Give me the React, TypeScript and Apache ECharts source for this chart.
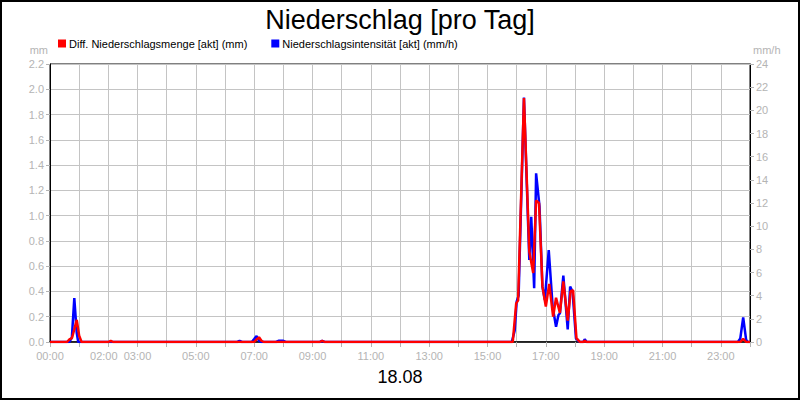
import React, { useEffect, useRef } from "react";
import * as echarts from "echarts";

const FONT = "'Liberation Sans', Arial, sans-serif";

// Diff. Niederschlagsmenge [akt] (mm) — minutes of day / mm
const redTimes = [0, 35, 40, 45, 50, 55, 60, 65, 120, 125, 130, 420, 425, 430, 435, 440, 555, 560, 565,
  952, 959, 963, 975, 986, 994, 1000, 1006, 1013, 1020, 1027, 1035, 1041, 1049, 1056, 1065, 1071, 1076,
  1083, 1090, 1097, 1100, 1104, 1420, 1426, 1432, 1440];
const redValues = [0, 0, 0.02, 0.03, 0.10, 0.175, 0.05, 0, 0, 0.01, 0, 0, 0.02, 0.037, 0.01, 0, 0, 0.01, 0,
  0, 0.306, 0.33, 1.93, 0.715, 0.546, 1.12, 1.10, 0.44, 0.28, 0.46, 0.20, 0.35, 0.23, 0.48, 0.17, 0.40, 0.41,
  0.03, 0, 0, 0.01, 0, 0, 0.024, 0, 0];

// Niederschlagsintensität [akt] (mm/h) — minutes of day / mm/h
const blueTimes = [0, 40, 45, 50, 55, 58, 385, 390, 395, 415, 420, 425, 430, 435, 465, 470, 480, 485,
  555, 560, 565, 950, 956, 960, 964, 975, 986, 990, 996, 1000, 1007, 1013, 1018, 1026, 1034, 1041, 1046,
  1049, 1056, 1065, 1070, 1075, 1082, 1090, 1097, 1100, 1104, 1415, 1420, 1426, 1432, 1435, 1440];
const blueValues = [0, 0, 0.4, 3.8, 0.8, 0, 0, 0.1, 0, 0, 0.25, 0.52, 0.1, 0, 0, 0.1, 0.1, 0,
  0, 0.1, 0, 0, 1.0, 3.48, 4.0, 21.1, 7.08, 10.8, 4.64, 14.56, 11.7, 4.78, 3.63, 7.94, 3.05, 1.32, 2.33,
  2.48, 5.73, 1.09, 4.78, 4.35, 0.3, 0, 0, 0.23, 0, 0, 0.3, 2.13, 0.2, 0, 0];

const xLabelHours = [0, 2, 3, 5, 7, 9, 11, 13, 15, 17, 19, 21, 23];

const seriesNames = ["Diff. Niederschlagsmenge [akt] (mm)", "Niederschlagsintensität [akt] (mm/h)"];
const title = "Niederschlag [pro Tag]";
const dateLabel = "18.08";

const pad = (n: number) => (n < 10 ? "0" + n : "" + n);

export default function App() {
  const ref = useRef<HTMLDivElement>(null);
  useEffect(() => {
    document.body.style.margin = "0";
    const chart = echarts.init(ref.current!, null, { renderer: "svg" });
    const gray = "#b4b4b4";
    const red = redTimes.map((t, i) => [t, redValues[i]]);
    const blue = blueTimes.map((t, i) => [t, blueValues[i]]);
    chart.setOption({
      animation: false,
      backgroundColor: "#fff",
      title: {
        text: title,
        left: "center",
        top: 1,
        textStyle: { fontFamily: FONT, fontSize: 27, fontWeight: "normal", color: "#000" },
      },
      legend: {
        data: seriesNames,
        left: 58,
        top: 38,
        padding: 0,
        icon: "rect",
        itemWidth: 8,
        itemHeight: 8,
        itemGap: 24,
        textStyle: { fontFamily: FONT, fontSize: 11, color: "#000", padding: [0, 0, 0, -2] },
      },
      grid: { left: 50, right: 50, top: 64, bottom: 58, show: true, borderColor: "#000", borderWidth: 1 },
      xAxis: {
        type: "value",
        min: 0,
        max: 1440,
        interval: 60,
        axisLine: { show: true, lineStyle: { color: "#000", width: 1.5 } },
        axisTick: { show: true, length: 5, lineStyle: { color: gray } },
        splitLine: { show: true, lineStyle: { color: "#c4c4c4", width: 1 } },
        axisLabel: {
          fontFamily: FONT,
          fontSize: 11,
          color: gray,
          margin: 8,
          showMaxLabel: true,
          formatter: (v: number) => {
            const h = Math.round(v / 60);
            if (xLabelHours.indexOf(h) < 0) return "";
            const s = pad(h) + ":00";
            return h === 2 ? "{s|" + s + "}" : s;
          },
          rich: { s: { fontFamily: FONT, fontSize: 11, color: gray, padding: [0, 9, 0, 0] } },
        },
      },
      yAxis: [
        {
          type: "value",
          min: 0,
          max: 2.2,
          interval: 0.2,
          axisLine: { show: true, lineStyle: { color: "#000" } },
          axisTick: { show: true, length: 4, lineStyle: { color: gray } },
          splitLine: { show: true, lineStyle: { color: "#c4c4c4", width: 1 } },
          axisLabel: {
            fontFamily: FONT,
            fontSize: 11,
            color: gray,
            margin: 6,
            formatter: (v: number) => v.toFixed(1),
          },
        },
        {
          type: "value",
          position: "right",
          min: 0,
          max: 24,
          interval: 2,
          axisLine: { show: true, lineStyle: { color: "#000" } },
          axisTick: { show: true, length: 4, lineStyle: { color: gray } },
          splitLine: { show: false },
          axisLabel: { fontFamily: FONT, fontSize: 11, color: gray, margin: 6 },
        },
      ],
      series: [
        {
          name: seriesNames[1],
          type: "line",
          yAxisIndex: 1,
          data: blue,
          showSymbol: false,
          color: "#0000ff",
          lineStyle: { color: "#0000ff", width: 2.5 },
          z: 2,
        },
        {
          name: seriesNames[0],
          type: "line",
          yAxisIndex: 0,
          data: red,
          showSymbol: false,
          color: "#ff0000",
          lineStyle: { color: "#ff0000", width: 2.5 },
          z: 3,
        },
      ],
      graphic: [
        {
          type: "rect",
          shape: { x: 1, y: 1, width: 798, height: 398 },
          style: { fill: "none", stroke: "#000", lineWidth: 2 },
          silent: true,
        },
        {
          type: "text",
          x: 48,
          y: 50,
          style: { text: "mm", fontFamily: FONT, fontSize: 11, fill: gray, align: "right", verticalAlign: "middle" },
        },
        {
          type: "text",
          x: 753,
          y: 50,
          style: { text: "mm/h", fontFamily: FONT, fontSize: 11, fill: gray, align: "left", verticalAlign: "middle" },
        },
        {
          type: "text",
          x: 400,
          y: 377,
          style: { text: dateLabel, fontFamily: FONT, fontSize: 18, fill: "#000", align: "center", verticalAlign: "middle" },
        },
      ],
    });
    return () => chart.dispose();
  }, []);
  return <div ref={ref} style={{ width: 800, height: 400 }} />;
}
